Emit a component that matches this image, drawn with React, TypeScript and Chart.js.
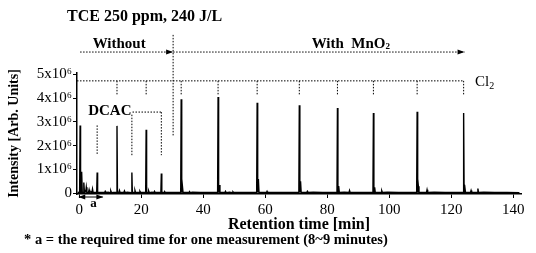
import React, { useEffect, useRef } from "react";
import { Chart, registerables } from "chart.js";

Chart.register(...registerables);

// ---- axis ticks ----
const xTickValues = [0, 20, 40, 60, 80, 100, 120, 140];
const xTickLabels = ["0", "20", "40", "60", "80", "100", "120", "140"];
const yTickValues = [0, 1e6, 2e6, 3e6, 4e6, 5e6];
const yTickLabels = ["0", "1x10⁶", "2x10⁶", "3x10⁶", "4x10⁶", "5x10⁶"];

// ---- main chromatogram peaks (retention time [min], intensity x1e6) ----
const peakTimes = [0.3, 5.8, 12.2, 17.0, 21.6, 26.5, 32.9, 44.8, 57.4, 71.0, 83.3, 94.9, 109.0, 124.0];
const peakHeights = [2.85, 0.87, 2.83, 0.87, 2.67, 0.83, 3.95, 4.04, 3.8, 3.7, 3.58, 3.37, 3.42, 3.37];

// ---- minor peaks / shoulders (min, x1e6) ----
const minorTimes = [0.8, 1.5, 2.3, 3.2, 4.3, 8.4, 10.2, 13.0, 14.6, 18.0, 19.6, 22.4, 24.3, 27.6, 33.3, 35.6, 45.2, 47.2, 49.6, 57.8, 60.6, 71.4, 73.6, 83.7, 87.2, 95.3, 97.6, 109.4, 112.2, 124.4, 126.4, 128.6];
const minorHeights = [0.9, 0.45, 0.25, 0.15, 0.18, 0.08, 0.1, 0.12, 0.1, 0.12, 0.08, 0.1, 0.08, 0.06, 0.3, 0.07, 0.35, 0.08, 0.06, 0.6, 0.08, 0.5, 0.08, 0.3, 0.12, 0.25, 0.1, 0.3, 0.15, 0.35, 0.12, 0.2];

// ---- baseline (min, x1e6) ----
const baseTimes = [-0.5, 2.0, 3.8, 6.8, 9.3, 11.0, 15.5, 20.0, 23.5, 25.5, 29.0, 31.0, 36.5, 39.0, 42.0, 48.5, 52.0, 55.0, 62.0, 65.0, 68.0, 75.5, 78.5, 81.0, 85.5, 90.0, 92.5, 99.5, 103.0, 106.0, 114.5, 118.0, 121.5, 130.5, 134.0, 138.0, 142.0];
const baseValues = [0.05, 0.1, 0.06, 0.04, 0.05, 0.04, 0.05, 0.04, 0.05, 0.03, 0.04, 0.03, 0.05, 0.03, 0.04, 0.05, 0.03, 0.04, 0.04, 0.03, 0.04, 0.05, 0.03, 0.04, 0.05, 0.04, 0.03, 0.05, 0.04, 0.03, 0.05, 0.03, 0.04, 0.05, 0.03, 0.03, 0.02];

// ---- annotation markers (data units) ----
const cl2Level = 4.72; // x1e6
const cl2Drops = [12.2, 21.6, 32.9, 44.8, 57.4, 71.0, 83.3, 94.9, 109.0, 124.0];
const dividerTime = 30.3;

const SERIF = "'Liberation Serif', 'Times New Roman', serif";

const annotations = {
  id: "annotations",
  afterDraw(chart: any) {
    const { ctx, scales } = chart;
    const xs = scales.x;
    const ys = scales.y;
    const X = (v: number) => xs.getPixelForValue(v);
    const Y = (v: number) => ys.getPixelForValue(v * 1e6);
    ctx.save();
    ctx.strokeStyle = "#000";
    ctx.fillStyle = "#000";
    ctx.lineWidth = 1;

    const dotted = (x1: number, y1: number, x2: number, y2: number) => {
      ctx.save();
      ctx.setLineDash([1.5, 1.5]);
      ctx.beginPath();
      ctx.moveTo(x1, y1);
      ctx.lineTo(x2, y2);
      ctx.stroke();
      ctx.restore();
    };
    const head = (xt: number, yt: number, dir: number) => {
      ctx.beginPath();
      ctx.moveTo(xt, yt);
      ctx.lineTo(xt - dir * 7, yt - 2.5);
      ctx.lineTo(xt - dir * 7, yt + 2.5);
      ctx.closePath();
      ctx.fill();
    };

    // Cl2 level line and drops
    const xLeft = xs.left;
    dotted(xLeft, Y(cl2Level), X(124.0), Y(cl2Level));
    cl2Drops.forEach((t) => dotted(X(t), Y(cl2Level), X(t), Y(4.12)));

    // divider
    dotted(X(dividerTime), Y(6.65), X(dividerTime), Y(2.4));

    // arrows
    const arrowY = Y(5.93);
    dotted(X(0.3), arrowY, X(dividerTime), arrowY);
    head(X(dividerTime), arrowY, 1);
    dotted(X(dividerTime), arrowY, X(124.3), arrowY);
    head(X(124.3), arrowY, 1);

    ctx.textBaseline = "middle";
    ctx.textAlign = "center";
    ctx.font = `bold 15px ${SERIF}`;
    ctx.fillText("Without", X(12.9), Y(6.27));
    // With MnO2
    ctx.textAlign = "left";
    const w1 = "With  MnO";
    const wWidth = ctx.measureText(w1).width;
    const startX = X(87.7) - (wWidth + 5) / 2;
    ctx.fillText(w1, startX, Y(6.27));
    ctx.font = `bold 9px ${SERIF}`;
    ctx.fillText("2", startX + wWidth, Y(6.27) + 3);

    // Cl2 label
    ctx.font = `15px ${SERIF}`;
    ctx.fillText("Cl", X(127.7), Y(4.67));
    const clw = ctx.measureText("Cl").width;
    ctx.font = `10px ${SERIF}`;
    ctx.fillText("2", X(127.7) + clw, Y(4.67) + 4);

    // DCAC label and lines
    ctx.font = `bold 15px ${SERIF}`;
    ctx.fillText("DCAC", X(2.9), Y(3.45));
    dotted(X(17.2), Y(3.41), X(26.5), Y(3.41));
    dotted(X(26.5), Y(3.41), X(26.5), Y(1.6));
    dotted(X(17.0), Y(3.3), X(17.0), Y(1.6));
    dotted(X(5.8), Y(2.85), X(5.8), Y(1.6));

    // 'a' double arrow under the axis
    const ay = ys.bottom + 3;
    ctx.beginPath();
    ctx.moveTo(X(0), ay);
    ctx.lineTo(X(7.6), ay);
    ctx.stroke();
    head(X(-0.3), ay, -1);
    head(X(7.8), ay, 1);
    ctx.textAlign = "center";
    ctx.font = `bold 13px ${SERIF}`;
    ctx.fillText("a", X(4.6), ay + 7);

    // title
    ctx.textAlign = "left";
    ctx.font = `bold 16px ${SERIF}`;
    ctx.fillText("TCE 250 ppm, 240 J/L", 67, 17);

    // footnote
    ctx.font = `bold 14.5px ${SERIF}`;
    ctx.fillText("* a = the required time for one measurement (8~9 minutes)", 24, 240);

    ctx.restore();
  },
};

export default function App() {
  const ref = useRef<HTMLCanvasElement | null>(null);

  useEffect(() => {
    if (!ref.current) return;
    const pts: { x: number; y: number }[] = [];
    baseTimes.forEach((t, i) => pts.push({ x: t, y: baseValues[i] * 1e6 }));
    const addPeak = (t: number, h: number, w: number) => {
      pts.push({ x: t - w, y: 0.03e6 }, { x: t, y: h * 1e6 }, { x: t + w, y: 0.03e6 });
    };
    peakTimes.forEach((t, i) => addPeak(t, peakHeights[i], 0.15));
    minorTimes.forEach((t, i) => addPeak(t, minorHeights[i], 0.2));
    pts.sort((a, b) => a.x - b.x);

    const chart = new Chart(ref.current, {
      type: "line",
      data: {
        datasets: [
          {
            data: pts,
            borderColor: "#000",
            borderWidth: 1.4,
            pointRadius: 0,
            tension: 0,
            fill: false,
          },
        ],
      },
      options: {
        animation: false,
        responsive: false,
        devicePixelRatio: 1,
        layout: { padding: { top: 73, right: 15, bottom: 19, left: 0 } },
        plugins: { legend: { display: false }, tooltip: { enabled: false }, title: { display: false } },
        scales: {
          x: {
            type: "linear",
            min: -0.7,
            max: 142.5,
            afterBuildTicks: (s: any) => {
              s.ticks = xTickValues.map((v) => ({ value: v }));
            },
            afterFit: (s: any) => {
              s.height = 40;
            },
            ticks: {
              color: "#000",
              font: { family: SERIF, size: 15 },
              padding: 3,
              maxRotation: 0,
              autoSkip: false,
              callback: (v: any) => {
                const i = xTickValues.indexOf(Number(v));
                return i >= 0 ? xTickLabels[i] : "";
              },
            },
            grid: { drawOnChartArea: false, drawTicks: true, tickLength: 4, color: "#000" },
            border: { color: "#000", width: 1.5 },
            title: {
              display: true,
              text: "Retention time [min]",
              color: "#000",
              font: { family: SERIF, size: 16, weight: "bold" },
              padding: { top: 0, bottom: 0 },
            },
          },
          y: {
            type: "linear",
            min: -0.03e6,
            max: 5.05e6,
            afterBuildTicks: (s: any) => {
              s.ticks = yTickValues.map((v) => ({ value: v }));
            },
            afterFit: (s: any) => {
              s.width = 77;
            },
            ticks: {
              color: "#000",
              font: { family: SERIF, size: 15 },
              padding: 1,
              autoSkip: false,
              callback: (v: any) => {
                const i = yTickValues.indexOf(Number(v));
                return i >= 0 ? yTickLabels[i] : "";
              },
            },
            grid: { drawOnChartArea: false, drawTicks: true, tickLength: 4, color: "#000" },
            border: { color: "#000", width: 1.5 },
            title: {
              display: true,
              text: "Intensity [Arb. Units]",
              color: "#000",
              font: { family: SERIF, size: 14, weight: "bold" },
              padding: { top: 6, bottom: 0 },
            },
          },
        },
      },
      plugins: [annotations],
    });
    return () => chart.destroy();
  }, []);

  return (
    <div style={{ position: "absolute", left: 0, top: 0, width: 536, height: 253, background: "#fff" }}>
      <canvas ref={ref} width={536} height={253} style={{ display: "block" }} />
    </div>
  );
}
